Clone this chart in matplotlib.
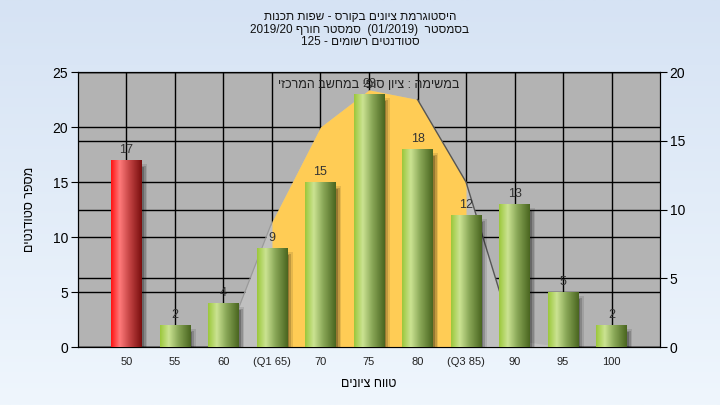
import re
import numpy as np
import matplotlib
matplotlib.use('Agg')
import matplotlib.pyplot as plt
from matplotlib.colors import LinearSegmentedColormap

plt.rcParams['font.family'] = ['Liberation Sans', 'DejaVu Sans']

# data
categories = ['50', '55', '60', '(Q1 65)', '70', '75', '80', '(Q3 85)', '90', '95', '100']
counts = [17, 2, 4, 9, 15, 23, 18, 12, 13, 5, 2]
normal_curve = [0, 0, 0, 9.1, 16, 18.7, 18, 12, 0.5, 0, 0]
q1_idx = 3
q3_idx = 7
fail_idx = [0]

title_lines = ['היסטוגרמת ציונים בקורס - שפות תכנות',
               'בסמסטר  (01/2019)  סמסטר חורף 2019/20',
               'סטודנטים רשומים - 125']
note_text = 'במשימה : ציון סופי במחשב המרכזי'
xlabel_text = 'טווח ציונים'
ylabel_text = 'מספר סטודנטים'


def vis(s):
    # logical hebrew -> visual order (no bidi lib here)
    r = s[::-1]
    r = re.sub(r'[0-9A-Za-z][0-9A-Za-z/.]*[0-9A-Za-z]|[0-9A-Za-z]', lambda m: m.group(0)[::-1], r)
    return r.translate(str.maketrans('()', ')('))


fig = plt.figure(figsize=(7.2, 4.05), dpi=100)

# background gradient
bg = fig.add_axes([0, 0, 1, 1], zorder=-10)
top_c = np.array([214, 227, 244]) / 255
bot_c = np.array([239, 246, 253]) / 255
t = np.linspace(0, 1, 256)[:, None]
bg.imshow((top_c * (1 - t) + bot_c * t)[:, None, :], aspect='auto', extent=[0, 1, 0, 1])
bg.axis('off')

ax = fig.add_axes([0.1083, 0.1432, 0.8084, 0.679])
ax.set_facecolor('#b3b3b3')
x = np.arange(len(categories))

# left axis + grid
ax.set_xlim(-1, len(categories))
ax.set_ylim(0, 25)
ax.set_yticks(range(0, 26, 5))
ax.set_xticks(x)
ax.set_xticklabels(categories, fontsize=8, color='#222222')
ax.tick_params(axis='x', length=0, pad=7)
ax.tick_params(axis='y', length=5, labelsize=10, colors='black', pad=2)
ax.grid(True, color='black', lw=1)
ax.set_axisbelow(True)
for s in ax.spines.values():
    s.set_color('black')
ax.set_xlabel(vis(xlabel_text), fontsize=9, labelpad=8)
ax.set_ylabel(vis(ylabel_text), fontsize=9, labelpad=12)

# right axis: normal curve
ax2 = ax.twinx()
ax2.set_ylim(0, 20)
ax2.set_yticks(range(0, 21, 5))
ax2.tick_params(axis='y', length=5, labelsize=10, colors='black', pad=2)
ax2.grid(True, axis='y', color='black', lw=1, zorder=0)
ax2.set_axisbelow(True)
ax2.fill_between(x, normal_curve, color='#c0c0c0', lw=0, zorder=1)
ax2.fill_between(x[q1_idx:q3_idx + 1], normal_curve[q1_idx:q3_idx + 1], color='#ffcc55', lw=0, zorder=2)
ax2.plot(x[q3_idx - 1:q3_idx + 2], normal_curve[q3_idx - 1:q3_idx + 2], color='#555555', lw=1, zorder=3)
ax2.plot(x[q1_idx - 1:q1_idx + 1], normal_curve[q1_idx - 1:q1_idx + 1], color='#999999', lw=0.8, zorder=3)
for s in ax2.spines.values():
    s.set_color('black')

# bars on top
ax3 = ax.twinx()
ax3.set_ylim(0, 25)
ax3.axis('off')

w = 0.62
for k, a in enumerate([0.22, 0.16, 0.1]):
    ax3.bar(x + 0.05 + k * 0.035, np.array(counts) - 0.45 + k * 0.1, width=w, bottom=-0.15,
            color='black', alpha=a, lw=0, zorder=2)

bars = ax3.bar(x, counts, width=w, color='none', lw=0, zorder=3)
green = LinearSegmentedColormap.from_list('g', [(0, '#9cc83c'), (0.28, '#cbe392'),
                                                (0.6, '#88a656'), (1, '#4a6620')])
red = LinearSegmentedColormap.from_list('r', [(0, '#ff1414'), (0.28, '#ff7a7a'),
                                              (0.6, '#c44444'), (1, '#7a0e0e')])
grad = np.linspace(0, 1, 64)[None, :]
for i, b in enumerate(bars):
    cm = red if i in fail_idx else green
    ax3.imshow(grad, cmap=cm, aspect='auto', zorder=4,
               extent=[b.get_x(), b.get_x() + b.get_width(), 0, b.get_height()])

ax3.bar_label(bars, padding=3, fontsize=9, color='#333333', zorder=6)
ax3.text(0.5, 0.953, vis(note_text), transform=ax3.transAxes, ha='center', va='center',
         fontsize=9, color='#222222', zorder=5)
ax3.set_xlim(-1, len(categories))
ax3.set_ylim(0, 25)

# title
for j, line in enumerate(title_lines):
    fig.text(0.5, 0.957 - j * 0.03, vis(line), ha='center', va='center', fontsize=8.5, color='#111111')

plt.savefig('out.png', dpi=100)
plt.close()
